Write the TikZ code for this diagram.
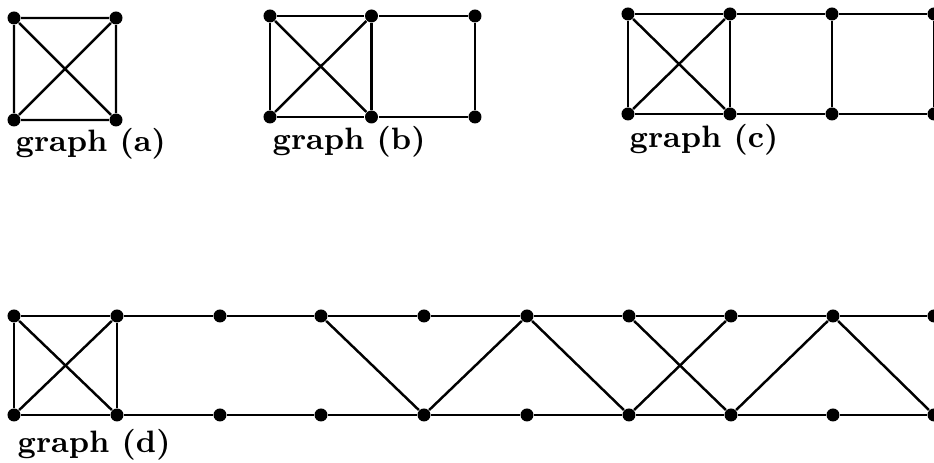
\documentclass[tikz,border=0pt]{standalone}
\usepackage{tikz}
\usetikzlibrary{
	positioning,
	calc
}

\tikzset{
	vtx/.style={circle, fill=black, inner sep=0pt, minimum size=0.13cm},
	edge/.style={line width=0.7pt},
	glabel/.style={anchor=base west, inner sep=0pt, font=\fontsize{8.8}{10}\selectfont\bfseries}
}

\begin{document}
\begin{tikzpicture}
		
		\useasboundingbox (0,0) rectangle (9.34,4.63);
		
		% graph (a)
		\node[vtx] (at1) at (0.14,4.45) {};
		\node[vtx] (at2) at (1.16,4.45) {};
		\node[vtx] (ab1) at (0.14,3.43) {};
		\node[vtx] (ab2) at (1.16,3.43) {};
		\draw[edge] (at1) -- (at2) -- (ab2) -- (ab1) -- (at1) -- (ab2);
		\draw[edge] (ab1) -- (at2);
		\node[glabel] (la) at (0.15,3.11) {graph (a)};
		
		% graph (b)
		\foreach \i/\x in {1/2.70,2/3.715,3/4.75}{
			\node[vtx] (bt\i) at (\x,4.47) {};
			\node[vtx] (bb\i) at (\x,3.46) {};
			\draw[edge] (bt\i) -- (bb\i);
		}
		\draw[edge] (bt1) -- (bt2) -- (bt3);
		\draw[edge] (bb1) -- (bb2) -- (bb3);
		\draw[edge] (bt1) -- (bb2);
		\draw[edge] (bb1) -- (bt2);
		\node[glabel] (lb) at (2.72,3.13) {graph (b)};
		
		% graph (c)
		\foreach \i/\x in {1/6.28,2/7.30,3/8.32,4/9.34}{
			\node[vtx] (ct\i) at (\x,4.49) {};
			\node[vtx] (cb\i) at (\x,3.49) {};
			\draw[edge] (ct\i) -- (cb\i);
		}
		\draw[edge] (ct1) -- (ct2) -- (ct3) -- (ct4);
		\draw[edge] (cb1) -- (cb2) -- (cb3) -- (cb4);
		\draw[edge] (ct1) -- (cb2);
		\draw[edge] (cb1) -- (ct2);
		\node[glabel] (lc) at (6.29,3.15) {graph (c)};
		
		% graph (d)
		\foreach \i/\x in {1/0.14,2/1.17,3/2.20,4/3.21,5/4.24,6/5.27,7/6.29,8/7.31,9/8.33,10/9.34}{
			\node[vtx] (dt\i) at (\x,1.47) {};
			\node[vtx] (db\i) at (\x,0.48) {};
		}
		\foreach \i [evaluate=\i as \j using int(\i+1)] in {1,...,9}{
			\draw[edge] (dt\i) -- (dt\j);
			\draw[edge] (db\i) -- (db\j);
		}
		\draw[edge] (dt1) -- (db1);
		\draw[edge] (dt2) -- (db2);
		\draw[edge] (dt1) -- (db2);
		\draw[edge] (db1) -- (dt2);
		\draw[edge] (dt4) -- (db5) -- (dt6) -- (db7) -- (dt8);
		\draw[edge] (dt7) -- (db8) -- (dt9) -- (db10);
		\node[glabel] (ld) at (0.17,0.10) {graph (d)};
		
	\end{tikzpicture}
\end{document}
